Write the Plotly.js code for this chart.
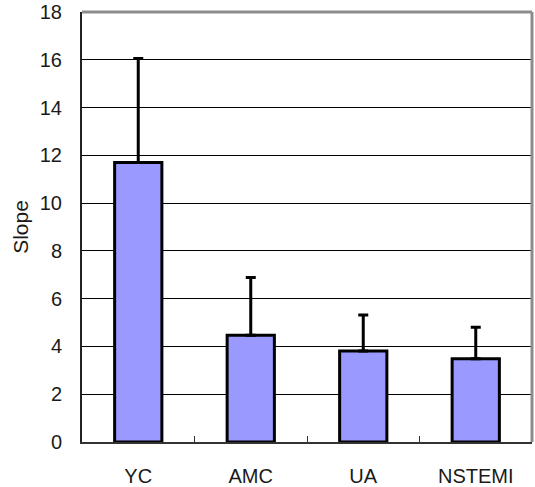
<!DOCTYPE html>
<html>
<head>
<meta charset="utf-8">
<script src="https://cdn.plot.ly/plotly-3.0.1.min.js"></script>
<style>
  html, body { margin: 0; padding: 0; background: #fff; }
  #chart { width: 535px; height: 487px; }
</style>
</head>
<body>
<div id="chart"></div>
<script>
// Mean slope per group, with the upper standard deviation bar
const groups = ["YC", "AMC", "UA", "NSTEMI"];
const slopeMean = [11.7, 4.47, 3.81, 3.49];
const slopeSD = [4.35, 2.42, 1.51, 1.31];
const yTicks = [0, 2, 4, 6, 8, 10, 12, 14, 16, 18];

const font = "Liberation Sans, Arial, sans-serif";
const textColor = "#1a1a1a";

const trace = {
  type: "bar",
  x: groups,
  y: slopeMean,
  width: 0.42,
  marker: { color: "#9999ff", line: { color: "#000000", width: 3 } },
  error_y: {
    type: "data",
    symmetric: false,
    array: slopeSD,
    arrayminus: slopeSD.map(() => 0),
    color: "#000000",
    thickness: 3,
    width: 5
  },
  hoverinfo: "skip"
};

const layout = {
  width: 535,
  height: 487,
  margin: { l: 82, r: 3, t: 12, b: 45 },
  paper_bgcolor: "#ffffff",
  plot_bgcolor: "#ffffff",
  showlegend: false,
  font: { family: font, color: textColor, size: 20 },
  xaxis: {
    type: "category",
    showgrid: false,
    showline: true,
    linecolor: "#333333",
    linewidth: 2,
    ticks: "inside",
    tickson: "boundaries",
    ticklen: 6,
    tickcolor: "#333333",
    ticklabelstandoff: 15,
    tickfont: { family: font, size: 20, color: textColor }
  },
  yaxis: {
    range: [0, 18.0001],
    tickvals: yTicks,
    ticktext: yTicks.map(String),
    showgrid: true,
    gridcolor: "#000000",
    gridwidth: 1.2,
    zeroline: false,
    showline: true,
    linecolor: "#222222",
    linewidth: 2,
    ticks: "",
    ticklabelstandoff: 14,
    tickfont: { family: font, size: 20, color: textColor },
    title: { text: "Slope", font: { family: font, size: 21, color: textColor }, standoff: 5 }
  },
  shapes: [
    { type: "line", xref: "paper", yref: "paper", x0: 0, x1: 1, y0: 1, y1: 1,
      line: { color: "#8c8c8c", width: 3 } },
    { type: "line", xref: "paper", yref: "paper", x0: 1, x1: 1, y0: 0, y1: 1,
      line: { color: "#8c8c8c", width: 3 } }
  ]
};

Plotly.newPlot("chart", [trace], layout, { displayModeBar: false, staticPlot: true });
</script>
</body>
</html>
